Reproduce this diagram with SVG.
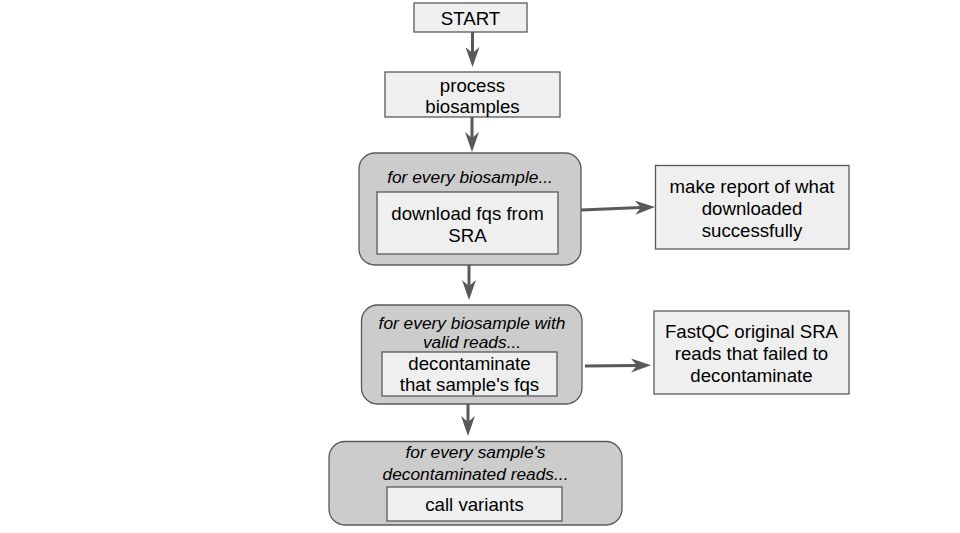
<svg xmlns="http://www.w3.org/2000/svg" width="960" height="533" viewBox="0 0 960 533">
<style>
.box{fill:#efefef;stroke:#595959;stroke-width:1.3}
.grp{fill:#cccccc;stroke:#595959;stroke-width:1.3}
.t{font-family:"Liberation Sans",Arial,sans-serif;font-size:18.67px;fill:#000;text-anchor:middle}
.i{font-family:"Liberation Sans",Arial,sans-serif;font-size:17.33px;font-style:italic;fill:#000;text-anchor:middle}
.c{stroke:#595959;stroke-width:3;fill:none;marker-end:url(#ah)}
</style>
<defs>
<marker id="ah" markerUnits="userSpaceOnUse" viewBox="0 0 20 14" refX="6" refY="7" markerWidth="20" markerHeight="14" orient="auto">
<path d="M0,0 L20,7 L0,14 L6,7 Z" fill="#595959"/>
</marker>
</defs>
<g id="connectors">
<line class="c" x1="472.5" y1="32" x2="472.5" y2="53"/>
<line class="c" x1="472" y1="117" x2="472" y2="138"/>
<line class="c" x1="581" y1="210" x2="641" y2="207.5"/>
<line class="c" x1="469" y1="265" x2="469" y2="286"/>
<line class="c" x1="585" y1="366" x2="637" y2="365.5"/>
<line class="c" x1="468" y1="404" x2="468" y2="422"/>
</g>
<g id="start">
<rect class="box" x="414" y="3" width="113" height="29"/>
<text class="t" x="470.5" y="24.5">START</text>
</g>
<g id="process">
<rect class="box" x="385" y="72" width="175" height="45"/>
<text class="t" x="472.5" y="91.5">process</text>
<text class="t" x="472.5" y="112.5">biosamples</text>
</g>
<g id="loop1">
<rect class="grp" x="359" y="153" width="222" height="112" rx="16"/>
<text class="i" x="470" y="183">for every biosample...</text>
<g id="download">
<rect class="box" x="377" y="192" width="181" height="62"/>
<text class="t" x="467.5" y="220">download fqs from</text>
<text class="t" x="467.5" y="242">SRA</text>
</g>
</g>
<g id="report">
<rect class="box" x="655.5" y="165.5" width="193.5" height="83.5"/>
<text class="t" x="752" y="193">make report of what</text>
<text class="t" x="752" y="215">downloaded</text>
<text class="t" x="752" y="237">successfully</text>
</g>
<g id="loop2">
<rect class="grp" x="361.5" y="305" width="220.5" height="99" rx="16"/>
<text class="i" x="472" y="329">for every biosample with</text>
<text class="i" x="472" y="348">valid reads...</text>
<g id="decontaminate">
<rect class="box" x="382" y="352" width="175" height="44"/>
<text class="t" x="469.5" y="369.5">decontaminate</text>
<text class="t" x="469.5" y="391">that sample's fqs</text>
</g>
</g>
<g id="fastqc">
<rect class="box" x="654" y="311" width="195" height="83"/>
<text class="t" x="751.5" y="338">FastQC original SRA</text>
<text class="t" x="751.5" y="360">reads that failed to</text>
<text class="t" x="751.5" y="382">decontaminate</text>
</g>
<g id="loop3">
<rect class="grp" x="329" y="441.5" width="293" height="83.5" rx="16"/>
<text class="i" x="475.5" y="458">for every sample's</text>
<text class="i" x="475.5" y="480">decontaminated reads...</text>
<g id="callvariants">
<rect class="box" x="387" y="487" width="175" height="34"/>
<text class="t" x="474.5" y="511">call variants</text>
</g>
</g>
</svg>
